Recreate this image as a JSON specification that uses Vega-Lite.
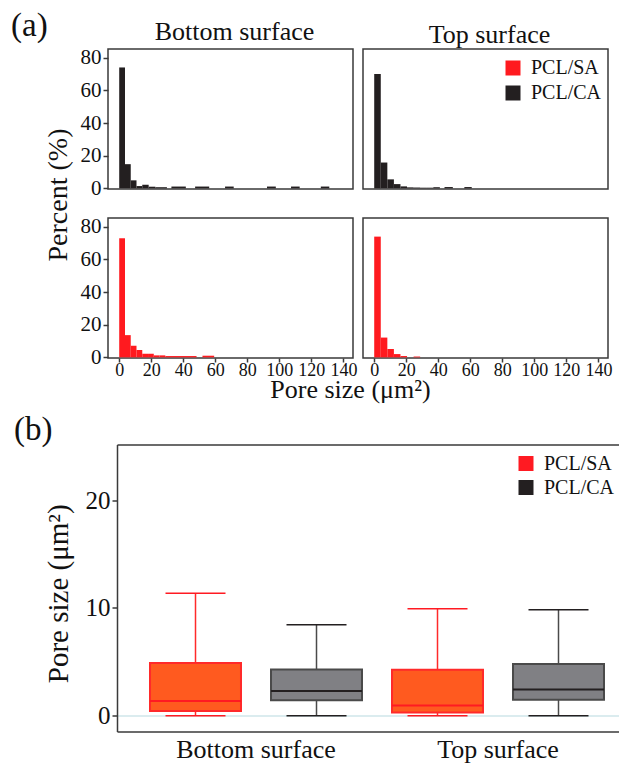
{
  "$schema": "https://vega.github.io/schema/vega-lite/v6.json",
  "padding": {"left": 11, "top": 10, "right": 0, "bottom": 0},
  "background": "white",
  "config": {
    "font": "Liberation Serif",
    "view": {"stroke": "#3a3a3a", "strokeWidth": 1.5},
    "axis": {"labelFont": "Liberation Serif", "labelFontSize": 21, "labelColor": "#111", "titleFont": "Liberation Serif", "titleFontWeight": "normal", "titleColor": "#111", "grid": false, "domain": false, "tickColor": "#3a3a3a", "tickSize": 5, "tickWidth": 1.5, "labelPadding": 2, "labelFlush": false, "labelOverlap": false},
    "legend": {"labelFont": "Liberation Serif", "labelFontSize": 20, "labelColor": "#111", "symbolType": "square", "symbolSize": 225, "symbolStrokeWidth": 0, "symbolOpacity": 1, "rowPadding": 4, "labelOffset": 8, "padding": 0},
    "title": {"font": "Liberation Serif", "fontWeight": "normal", "color": "#111"}
  },
  "datasets": {
    "hist": [
      {"surface": "Bottom surface", "material": "PCL/CA", "start": 0, "end": 3.6, "percent": 74},
      {"surface": "Bottom surface", "material": "PCL/CA", "start": 3.6, "end": 7.2, "percent": 14.8},
      {"surface": "Bottom surface", "material": "PCL/CA", "start": 7.2, "end": 10.8, "percent": 4.9},
      {"surface": "Bottom surface", "material": "PCL/CA", "start": 10.8, "end": 14.4, "percent": 1.4},
      {"surface": "Bottom surface", "material": "PCL/CA", "start": 14.4, "end": 18.4, "percent": 2.2},
      {"surface": "Bottom surface", "material": "PCL/CA", "start": 18.4, "end": 22.6, "percent": 1.0},
      {"surface": "Bottom surface", "material": "PCL/CA", "start": 22.6, "end": 29.8, "percent": 0.7},
      {"surface": "Bottom surface", "material": "PCL/CA", "start": 32.6, "end": 41.6, "percent": 1.1},
      {"surface": "Bottom surface", "material": "PCL/CA", "start": 47.4, "end": 56.2, "percent": 1.1},
      {"surface": "Bottom surface", "material": "PCL/CA", "start": 66.1, "end": 71.5, "percent": 1.1},
      {"surface": "Bottom surface", "material": "PCL/CA", "start": 92.3, "end": 97.8, "percent": 1.1},
      {"surface": "Bottom surface", "material": "PCL/CA", "start": 107.3, "end": 112.7, "percent": 1.1},
      {"surface": "Bottom surface", "material": "PCL/CA", "start": 125.9, "end": 131.2, "percent": 1.1},
      {"surface": "Top surface", "material": "PCL/CA", "start": 0, "end": 4.1, "percent": 70},
      {"surface": "Top surface", "material": "PCL/CA", "start": 4.1, "end": 8.2, "percent": 15.8},
      {"surface": "Top surface", "material": "PCL/CA", "start": 8.2, "end": 12.3, "percent": 5.5},
      {"surface": "Top surface", "material": "PCL/CA", "start": 12.3, "end": 16.4, "percent": 2.6},
      {"surface": "Top surface", "material": "PCL/CA", "start": 16.4, "end": 20.5, "percent": 1.2},
      {"surface": "Top surface", "material": "PCL/CA", "start": 20.5, "end": 24.6, "percent": 0.6},
      {"surface": "Top surface", "material": "PCL/CA", "start": 24.6, "end": 28.7, "percent": 0.5},
      {"surface": "Top surface", "material": "PCL/CA", "start": 28.7, "end": 32.8, "percent": 0.4},
      {"surface": "Top surface", "material": "PCL/CA", "start": 32.8, "end": 36.9, "percent": 0.4},
      {"surface": "Top surface", "material": "PCL/CA", "start": 36.9, "end": 41, "percent": 0.7},
      {"surface": "Top surface", "material": "PCL/CA", "start": 43.9, "end": 49.1, "percent": 0.8},
      {"surface": "Top surface", "material": "PCL/CA", "start": 56.3, "end": 60.9, "percent": 0.8},
      {"surface": "Bottom surface", "material": "PCL/SA", "start": 0, "end": 3.6, "percent": 72.9},
      {"surface": "Bottom surface", "material": "PCL/SA", "start": 3.6, "end": 7.2, "percent": 13.6},
      {"surface": "Bottom surface", "material": "PCL/SA", "start": 7.2, "end": 10.8, "percent": 7.1},
      {"surface": "Bottom surface", "material": "PCL/SA", "start": 10.8, "end": 14.4, "percent": 4.5},
      {"surface": "Bottom surface", "material": "PCL/SA", "start": 14.4, "end": 18, "percent": 2.2},
      {"surface": "Bottom surface", "material": "PCL/SA", "start": 18, "end": 21.6, "percent": 2.2},
      {"surface": "Bottom surface", "material": "PCL/SA", "start": 21.6, "end": 25.2, "percent": 1.2},
      {"surface": "Bottom surface", "material": "PCL/SA", "start": 25.2, "end": 28.8, "percent": 1.2},
      {"surface": "Bottom surface", "material": "PCL/SA", "start": 28.8, "end": 48.3, "percent": 0.8},
      {"surface": "Bottom surface", "material": "PCL/SA", "start": 52, "end": 59.3, "percent": 1.0},
      {"surface": "Top surface", "material": "PCL/SA", "start": 0, "end": 4.1, "percent": 73.9},
      {"surface": "Top surface", "material": "PCL/SA", "start": 4.1, "end": 8.2, "percent": 12.1},
      {"surface": "Top surface", "material": "PCL/SA", "start": 8.2, "end": 12.3, "percent": 5.1},
      {"surface": "Top surface", "material": "PCL/SA", "start": 12.3, "end": 16.4, "percent": 2.0},
      {"surface": "Top surface", "material": "PCL/SA", "start": 16.4, "end": 20.5, "percent": 0.8},
      {"surface": "Top surface", "material": "PCL/SA", "start": 24.6, "end": 28.7, "percent": 0.5}
    ],
    "box": [
      {"surface": "Bottom surface", "material": "PCL/SA", "min": 0, "q1": 0.44, "median": 1.37, "q3": 4.89, "max": 11.37},
      {"surface": "Bottom surface", "material": "PCL/CA", "min": 0, "q1": 1.44, "median": 2.3, "q3": 4.3, "max": 8.44},
      {"surface": "Top surface", "material": "PCL/SA", "min": 0, "q1": 0.3, "median": 0.97, "q3": 4.28, "max": 9.93},
      {"surface": "Top surface", "material": "PCL/CA", "min": 0, "q1": 1.5, "median": 2.45, "q3": 4.8, "max": 9.83}
    ]
  },
  "vconcat": [
    {
      "title": {"text": "(a)", "anchor": "start", "frame": "group", "fontSize": 33, "baseline": "bottom", "offset": 0, "dx": -97, "dy": 57.7},
      "columns": 2,
      "spacing": {"row": 29, "column": 10},
      "bounds": "flush",
      "resolve": {"scale": {"color": "independent"}, "legend": {"color": "independent"}},
      "concat": [
        {
          "width": 245, "height": 140,
          "title": {"text": "Bottom surface", "fontSize": 26, "baseline": "bottom", "offset": 3, "dy": 27.7, "dx": 4},
          "data": {"name": "hist"},
          "transform": [{"filter": "datum.surface === 'Bottom surface' && datum.material === 'PCL/CA'"}],
          "mark": {"type": "bar"},
          "encoding": {
            "x": {"field": "start", "type": "quantitative", "scale": {"domain": [-7, 146], "nice": false, "zero": false}, "axis": null},
            "x2": {"field": "end"},
            "y": {"field": "percent", "type": "quantitative", "scale": {"domain": [-0.4, 85.3], "nice": false}, "axis": {"values": [0, 20, 40, 60, 80], "title": "Percent (%)", "titleFontSize": 28, "titleX": -42, "titleY": 145.5, "titleAngle": -90, "titleAlign": "center", "titleBaseline": "alphabetic"}},
            "y2": {"datum": 0},
            "color": {"field": "material", "type": "nominal", "scale": {"domain": ["PCL/SA", "PCL/CA"], "range": ["#FF1A1F", "#231F20"]}, "legend": null}
          }
        },
        {
          "width": 245, "height": 140,
          "title": {"text": "Top surface", "fontSize": 26, "baseline": "bottom", "offset": 3, "dy": 27.7, "dx": 4},
          "data": {"name": "hist"},
          "transform": [{"filter": "datum.surface === 'Top surface' && datum.material === 'PCL/CA'"}],
          "mark": {"type": "bar"},
          "encoding": {
            "x": {"field": "start", "type": "quantitative", "scale": {"domain": [-7, 146], "nice": false, "zero": false}, "axis": null},
            "x2": {"field": "end"},
            "y": {"field": "percent", "type": "quantitative", "scale": {"domain": [-0.4, 85.3], "nice": false}, "axis": null},
            "y2": {"datum": 0},
            "color": {"field": "material", "type": "nominal", "scale": {"domain": ["PCL/SA", "PCL/CA"], "range": ["#FF1A1F", "#231F20"]}, "legend": {"orient": "none", "legendX": 140, "legendY": 9, "title": null, "rowPadding": 5}}
          }
        },
        {
          "width": 245, "height": 140,
          "data": {"name": "hist"},
          "transform": [{"filter": "datum.surface === 'Bottom surface' && datum.material === 'PCL/SA'"}],
          "mark": {"type": "bar"},
          "encoding": {
            "x": {"field": "start", "type": "quantitative", "scale": {"domain": [-7, 146], "nice": false, "zero": false}, "axis": {"values": [0, 20, 40, 60, 80, 100, 120, 140], "labelFontSize": 18, "tickSize": 4, "labelPadding": -1, "title": "Pore size (μm²)", "titleFontSize": 26, "titleX": 242, "titleY": 39, "titleAlign": "center", "titleBaseline": "alphabetic"}},
            "x2": {"field": "end"},
            "y": {"field": "percent", "type": "quantitative", "scale": {"domain": [-0.4, 85.3], "nice": false}, "axis": {"values": [0, 20, 40, 60, 80], "title": null}},
            "y2": {"datum": 0},
            "color": {"field": "material", "type": "nominal", "scale": {"domain": ["PCL/SA", "PCL/CA"], "range": ["#FF1A1F", "#231F20"]}, "legend": null}
          }
        },
        {
          "width": 245, "height": 140,
          "data": {"name": "hist"},
          "transform": [{"filter": "datum.surface === 'Top surface' && datum.material === 'PCL/SA'"}],
          "mark": {"type": "bar"},
          "encoding": {
            "x": {"field": "start", "type": "quantitative", "scale": {"domain": [-7, 146], "nice": false, "zero": false}, "axis": {"values": [0, 20, 40, 60, 80, 100, 120, 140], "labelFontSize": 18, "tickSize": 4, "labelPadding": -1, "title": null}},
            "x2": {"field": "end"},
            "y": {"field": "percent", "type": "quantitative", "scale": {"domain": [-0.4, 85.3], "nice": false}, "axis": null},
            "y2": {"datum": 0},
            "color": {"field": "material", "type": "nominal", "scale": {"domain": ["PCL/SA", "PCL/CA"], "range": ["#FF1A1F", "#231F20"]}, "legend": null}
          }
        }
      ]
    },
    {
      "width": 511, "height": 287,
      "view": {"stroke": null},
      "title": {"text": "(b)", "anchor": "start", "frame": "group", "fontSize": 33, "baseline": "bottom", "offset": 0, "dy": 35.6, "dx": -94},
      "data": {"name": "box"},
      "layer": [
        {
          "layer": [
            {
              "mark": {"type": "rule", "strokeWidth": 1.5},
              "encoding": {
                "x": {"field": "surface", "type": "nominal", "scale": {"domain": ["Bottom surface", "Top surface"], "range": [9, 511], "paddingInner": 0, "paddingOuter": 0.0372, "align": 1}, "axis": {"title": null, "domain": true, "domainColor": "#3a3a3a", "domainWidth": 1.5, "ticks": false, "labelFontSize": 26, "labelPadding": 5, "labelAngle": 0}},
                "xOffset": {"field": "material", "type": "nominal", "scale": {"domain": ["PCL/SA", "PCL/CA"], "paddingInner": 0.248, "paddingOuter": 0.124}},
                "y": {"field": "min", "type": "quantitative", "scale": {"domain": [-1.45, 25.15], "nice": false, "zero": false}, "axis": {"values": [0, 10, 20], "offset": -9, "domain": true, "domainColor": "#3a3a3a", "domainWidth": 1.5, "labelFontSize": 25, "title": "Pore size (μm²)", "titleFontSize": 29, "titleX": -50, "titleY": 148.8, "titleAngle": -90, "titleAlign": "center", "titleBaseline": "alphabetic", "grid": true, "gridColor": {"condition": {"test": "datum.value === 0", "value": "#cfe6ea"}, "value": "transparent"}, "gridWidth": 1.5}},
                "y2": {"field": "q1"},
                "stroke": {"field": "material", "type": "nominal", "scale": {"domain": ["PCL/SA", "PCL/CA"], "range": ["#FF2A2A", "#4a4a4a"]}, "legend": null}
              }
            },
            {
              "mark": {"type": "rule", "strokeWidth": 1.5},
              "encoding": {
                "x": {"field": "surface", "type": "nominal"},
                "xOffset": {"field": "material", "type": "nominal"},
                "y": {"field": "q3", "type": "quantitative"},
                "y2": {"field": "max"},
                "stroke": {"field": "material", "type": "nominal", "legend": null}
              }
            },
            {
              "mark": {"type": "bar", "strokeWidth": 2},
              "encoding": {
                "x": {"field": "surface", "type": "nominal"},
                "xOffset": {"field": "material", "type": "nominal"},
                "y": {"field": "q1", "type": "quantitative"},
                "y2": {"field": "q3"},
                "fill": {"field": "material", "type": "nominal", "scale": {"domain": ["PCL/SA", "PCL/CA"], "range": ["#FF5A1F", "#808084"]}, "legend": null},
                "stroke": {"field": "material", "type": "nominal", "legend": null}
              }
            },
            {
              "mark": {"type": "tick", "size": 91, "thickness": 2, "opacity": 1},
              "encoding": {
                "x": {"field": "surface", "type": "nominal"},
                "xOffset": {"field": "material", "type": "nominal"},
                "y": {"field": "median", "type": "quantitative"},
                "color": {"field": "material", "type": "nominal", "scale": {"domain": ["PCL/SA", "PCL/CA"], "range": ["#FF1A22", "#231F20"]}, "legend": {"orient": "none", "legendX": 408, "legendY": 9, "title": null, "rowPadding": 4}}
              }
            }
          ]
        },
        {
          "layer": [
            {
              "mark": {"type": "tick", "size": 60, "thickness": 1.5, "opacity": 1},
              "encoding": {
                "x": {"field": "surface", "type": "nominal", "scale": {"domain": ["Bottom surface", "Top surface"], "range": [9, 511], "paddingInner": 0, "paddingOuter": 0.0372, "align": 1}, "axis": {"orient": "top", "title": null, "domain": true, "domainColor": "#3a3a3a", "domainWidth": 1.5, "ticks": false, "labels": false}},
                "xOffset": {"field": "material", "type": "nominal"},
                "y": {"field": "min", "type": "quantitative"},
                "color": {"field": "material", "type": "nominal", "legend": {"orient": "none", "legendX": 408, "legendY": 9, "title": null, "rowPadding": 4}}
              }
            },
            {
              "mark": {"type": "tick", "size": 60, "thickness": 1.5, "opacity": 1},
              "encoding": {
                "x": {"field": "surface", "type": "nominal"},
                "xOffset": {"field": "material", "type": "nominal"},
                "y": {"field": "max", "type": "quantitative"},
                "color": {"field": "material", "type": "nominal", "legend": {"orient": "none", "legendX": 408, "legendY": 9, "title": null, "rowPadding": 4}}
              }
            }
          ]
        }
      ],
      "resolve": {"scale": {"x": "independent"}}
    }
  ],
  "spacing": 10.5,
  "resolve": {"scale": {"color": "independent"}, "legend": {"color": "independent"}}
}
